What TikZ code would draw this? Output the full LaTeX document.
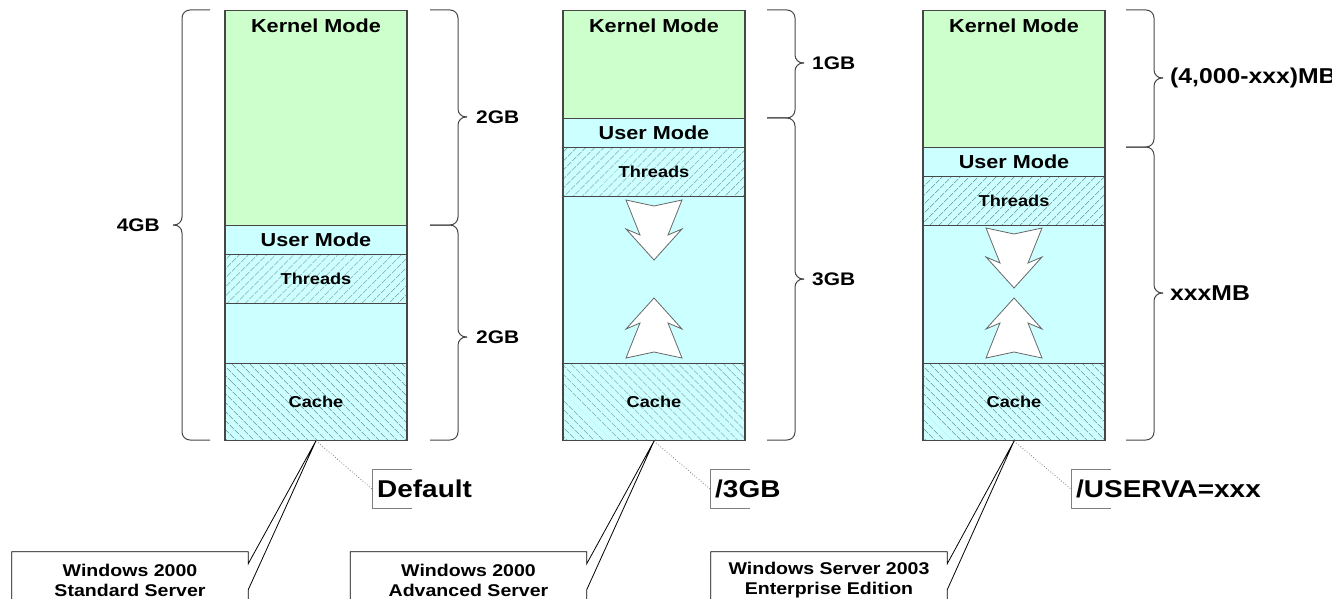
\documentclass[tikz,border=0pt]{standalone}
\usepackage{fontspec}
\setmainfont{Liberation Sans}[FakeStretch=1.15]
\usetikzlibrary{positioning}
\usetikzlibrary{patterns.meta}
\definecolor{kernelgreen}{RGB}{204,255,204}
\definecolor{usercyan}{RGB}{204,255,255}
\definecolor{edgegray}{RGB}{70,70,70}
\definecolor{hatchgray}{RGB}{100,118,118}
% x start, direction (+1 right / -1 left), y top, y tip, y bottom
\newcommand{\memBrace}[5]{%
    \draw[brace line] (#1,#3) -- ({#1+#2*28},#3) -- ({#1+#2*28},#4) -- ({#1+#2*37},#4);
    \draw[brace line] (#1,#5) -- ({#1+#2*28},#5) -- ({#1+#2*28},#4) -- ({#1+#2*37},#4);
}
\begin{document}
\begin{tikzpicture}[x=1pt,y=-1pt,
    band/.style={draw=edgegray, line width=1.1pt, minimum width=182pt, inner sep=0pt, anchor=north},
    kernel/.style={band, fill=kernelgreen},
    user/.style={band, fill=usercyan},
    threads/.style={band, pattern={Lines[angle=45,distance=6.5pt,line width=0.7pt]}, pattern color=hatchgray, preaction={fill=usercyan}},
    cache/.style={band, pattern={Lines[angle=-45,distance=6.5pt,line width=0.7pt]}, pattern color=hatchgray, preaction={fill=usercyan}},
    bigtext/.style={font=\fontsize{18.8}{20}\selectfont\bfseries, inner sep=0pt},
    smalltext/.style={font=\fontsize{15.8}{17}\selectfont\bfseries, inner sep=0pt},
    sizetext/.style={font=\fontsize{18.2}{20}\selectfont\bfseries, inner sep=0pt},
    widetext/.style={font=\fontsize{21.5}{24}\selectfont\bfseries, inner sep=0pt},
    switchtext/.style={font=\fontsize{24.3}{26}\selectfont\bfseries, minimum height=39pt, inner xsep=5pt, inner ysep=0pt, anchor=west},
    servertext/.style={font=\fontsize{17}{20}\selectfont\bfseries, align=center, minimum width=236pt, minimum height=56pt, inner sep=0pt},
    brace line/.style={draw=edgegray, line width=1pt, rounded corners=8pt},
    callout/.style={draw=black, line width=0.8pt},
    bracket/.style={draw=gray, line width=0.8pt},
    dots/.style={draw=gray, dotted, line width=0.8pt},
    squeeze/.pic={
        \draw[draw=black!60, fill=white, line width=0.8pt]
            (-28,-60) -- (0,-54) -- (28,-60) -- (14,-25) -- (28,-31) -- (0,0)
            -- (-28,-31) -- (-14,-25) -- cycle;
    }
]
\useasboundingbox (0,0) rectangle (1332,599);

% Windows 2000 Standard Server: 2GB / 2GB
\node[kernel, minimum height=215pt] (kern1) at (316,10) {};
\node[user, minimum height=29pt] (user1) at (316,225) {};
\node[threads, minimum height=49pt] (thr1) at (316,254) {};
\node[user, minimum height=60pt] (free1) at (316,303) {};
\node[cache, minimum height=77pt] (cache1) at (316,363) {};
\node[bigtext, below=9pt of kern1.north] (kern1t) {Kernel Mode};
\node[bigtext] (user1t) at (user1.center) {User Mode};
\node[smalltext] (thr1t) at (thr1.center) {Threads};
\node[smalltext] (cache1t) at (cache1.center) {Cache};

% Windows 2000 Advanced Server: 1GB / 3GB
\node[kernel, minimum height=108pt] (kern2) at (654,10) {};
\node[user, minimum height=29pt] (user2) at (654,118) {};
\node[threads, minimum height=49pt] (thr2) at (654,147) {};
\node[user, minimum height=167pt] (free2) at (654,196) {};
\node[cache, minimum height=77pt] (cache2) at (654,363) {};
\node[bigtext, below=9pt of kern2.north] (kern2t) {Kernel Mode};
\node[bigtext] (user2t) at (user2.center) {User Mode};
\node[smalltext] (thr2t) at (thr2.center) {Threads};
\node[smalltext] (cache2t) at (cache2.center) {Cache};
\pic at (654,260) {squeeze};
\pic[yscale=-1] at (654,298) {squeeze};

% Windows Server 2003 Enterprise Edition: /USERVA
\node[kernel, minimum height=137pt] (kern3) at (1014,10) {};
\node[user, minimum height=29pt] (user3) at (1014,147) {};
\node[threads, minimum height=49pt] (thr3) at (1014,176) {};
\node[user, minimum height=138pt] (free3) at (1014,225) {};
\node[cache, minimum height=77pt] (cache3) at (1014,363) {};
\node[bigtext, below=9pt of kern3.north] (kern3t) {Kernel Mode};
\node[bigtext] (user3t) at (user3.center) {User Mode};
\node[smalltext] (thr3t) at (thr3.center) {Threads};
\node[smalltext] (cache3t) at (cache3.center) {Cache};
\pic at (1014,288) {squeeze};
\pic[yscale=-1] at (1014,298) {squeeze};

% braces
\memBrace{210}{-1}{10}{225}{440}
\memBrace{430}{1}{10}{117}{225}
\memBrace{430}{1}{225}{337}{440}
\memBrace{767}{1}{10}{63}{118}
\memBrace{767}{1}{118}{279}{440}
\memBrace{1126}{1}{10}{78}{147}
\memBrace{1126}{1}{147}{293}{440}
\node[sizetext, anchor=east] (all1) at (160,225) {4GB};
\node[sizetext, anchor=west] (top1) at (476,117) {2GB};
\node[sizetext, anchor=west] (low1) at (476,337) {2GB};
\node[sizetext, anchor=west] (top2) at (812,63) {1GB};
\node[sizetext, anchor=west] (low2) at (812,279) {3GB};
\node[widetext, anchor=west] (top3) at (1170,78) {(4,000-xxx)MB};
\node[widetext, anchor=west] (low3) at (1170,293) {xxxMB};

% boot switches
\node[switchtext] (sw1) at (372,489) {Default};
\node[switchtext] (sw2) at (710,489) {/3GB};
\node[switchtext] (sw3) at (1071,489) {/USERVA=xxx};
\foreach \s in {sw1,sw2,sw3} {
    \draw[bracket] ([xshift=40pt]\s.north west) -- (\s.north west) -- (\s.south west) -- ([xshift=40pt]\s.south west);
}
\draw[dots] (cache1.south) -- (sw1.west);
\draw[dots] (cache2.south) -- (sw2.west);
\draw[dots] (cache3.south) -- (sw3.west);

% server callouts
\node[servertext] (srv1) at (130,580) {Windows 2000\\Standard Server};
\node[servertext] (srv2) at (468.5,580) {Windows 2000\\Advanced Server};
\node[servertext] (srv3) at (829,580) {Windows Server 2003\\Enterprise Edition};
\draw[callout] (srv1.south west) -- (srv1.north west) -- (srv1.north east) -- ([yshift=-12pt]srv1.north east)
    -- (cache1.south) -- ([yshift=-38pt]srv1.north east) -- (srv1.south east);
\draw[callout] (srv2.south west) -- (srv2.north west) -- (srv2.north east) -- ([yshift=-12pt]srv2.north east)
    -- (cache2.south) -- ([yshift=-38pt]srv2.north east) -- (srv2.south east);
\draw[callout] (srv3.south west) -- (srv3.north west) -- (srv3.north east) -- ([yshift=-12pt]srv3.north east)
    -- (cache3.south) -- ([yshift=-38pt]srv3.north east) -- (srv3.south east);
\end{tikzpicture}
\end{document}
